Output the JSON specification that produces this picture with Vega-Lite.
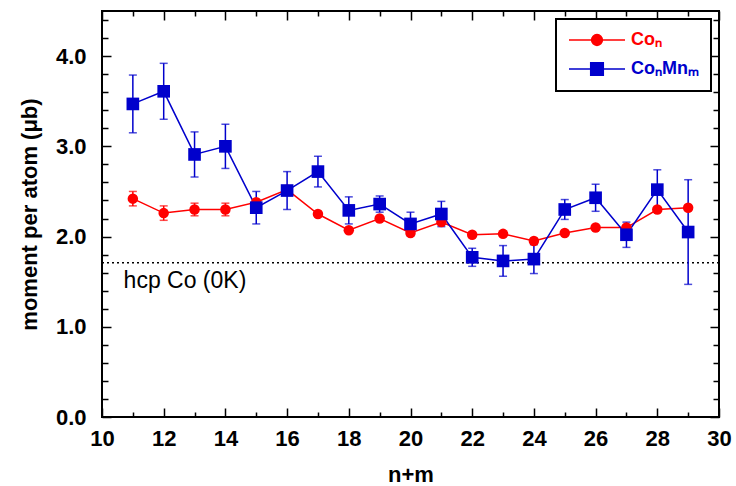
{
  "$schema": "https://vega.github.io/schema/vega-lite/v6.json",
  "width": 617,
  "height": 406,
  "autosize": "none",
  "padding": {"left": 102, "top": 11, "right": 17, "bottom": 69},
  "background": "white",
  "config": {
    "view": {"stroke": "black", "strokeWidth": 2},
    "font": "Liberation Sans",
    "legend": {"symbolOpacity": 1},
    "axis": {
      "domain": false,
      "grid": false,
      "tickColor": "black",
      "tickWidth": 1.5,
      "labelFont": "Liberation Sans",
      "labelFontWeight": "bold",
      "labelFontSize": 22,
      "labelColor": "black",
      "titleFont": "Liberation Sans",
      "titleFontWeight": "bold",
      "titleFontSize": 22,
      "titleColor": "black",
      "labelFlush": false,
      "labelOverlap": false
    }
  },
  "data": {
    "values": [
      {"x": 11, "s": "Co\u2099", "y": 2.42, "err": 0.08},
      {"x": 12, "s": "Co\u2099", "y": 2.26, "err": 0.08},
      {"x": 13, "s": "Co\u2099", "y": 2.30, "err": 0.07},
      {"x": 14, "s": "Co\u2099", "y": 2.30, "err": 0.07},
      {"x": 15, "s": "Co\u2099", "y": 2.38, "err": 0},
      {"x": 16, "s": "Co\u2099", "y": 2.52, "err": 0},
      {"x": 17, "s": "Co\u2099", "y": 2.25, "err": 0},
      {"x": 18, "s": "Co\u2099", "y": 2.07, "err": 0},
      {"x": 19, "s": "Co\u2099", "y": 2.20, "err": 0},
      {"x": 20, "s": "Co\u2099", "y": 2.04, "err": 0},
      {"x": 21, "s": "Co\u2099", "y": 2.16, "err": 0},
      {"x": 22, "s": "Co\u2099", "y": 2.02, "err": 0},
      {"x": 23, "s": "Co\u2099", "y": 2.03, "err": 0},
      {"x": 24, "s": "Co\u2099", "y": 1.95, "err": 0},
      {"x": 25, "s": "Co\u2099", "y": 2.04, "err": 0},
      {"x": 26, "s": "Co\u2099", "y": 2.10, "err": 0},
      {"x": 27, "s": "Co\u2099", "y": 2.10, "err": 0},
      {"x": 28, "s": "Co\u2099", "y": 2.30, "err": 0},
      {"x": 29, "s": "Co\u2099", "y": 2.32, "err": 0},
      {"x": 11, "s": "Co\u2099Mn\u2098", "y": 3.47, "err": 0.32},
      {"x": 12, "s": "Co\u2099Mn\u2098", "y": 3.61, "err": 0.31},
      {"x": 13, "s": "Co\u2099Mn\u2098", "y": 2.91, "err": 0.25},
      {"x": 14, "s": "Co\u2099Mn\u2098", "y": 3.00, "err": 0.245},
      {"x": 15, "s": "Co\u2099Mn\u2098", "y": 2.32, "err": 0.18},
      {"x": 16, "s": "Co\u2099Mn\u2098", "y": 2.51, "err": 0.21},
      {"x": 17, "s": "Co\u2099Mn\u2098", "y": 2.72, "err": 0.17},
      {"x": 18, "s": "Co\u2099Mn\u2098", "y": 2.29, "err": 0.15},
      {"x": 19, "s": "Co\u2099Mn\u2098", "y": 2.36, "err": 0.09},
      {"x": 20, "s": "Co\u2099Mn\u2098", "y": 2.14, "err": 0.13},
      {"x": 21, "s": "Co\u2099Mn\u2098", "y": 2.25, "err": 0.14},
      {"x": 22, "s": "Co\u2099Mn\u2098", "y": 1.77, "err": 0.10},
      {"x": 23, "s": "Co\u2099Mn\u2098", "y": 1.73, "err": 0.17},
      {"x": 24, "s": "Co\u2099Mn\u2098", "y": 1.75, "err": 0.16},
      {"x": 25, "s": "Co\u2099Mn\u2098", "y": 2.30, "err": 0.11},
      {"x": 26, "s": "Co\u2099Mn\u2098", "y": 2.43, "err": 0.15},
      {"x": 27, "s": "Co\u2099Mn\u2098", "y": 2.02, "err": 0.14},
      {"x": 28, "s": "Co\u2099Mn\u2098", "y": 2.52, "err": 0.22},
      {"x": 29, "s": "Co\u2099Mn\u2098", "y": 2.05, "err": 0.58}
    ]
  },
  "resolve": {"axis": {"x": "independent", "y": "independent"}},
  "layer": [
    {
      "data": {"values": [{"h": 1.71}]},
      "mark": {"type": "rule", "color": "black", "strokeWidth": 1.5, "strokeDash": [2, 3]},
      "encoding": {
        "y": {"field": "h", "type": "quantitative", "axis": null, "scale": {"domain": [0, 4.5], "nice": false}}
      }
    },
    {
      "data": {"values": [{"x": 10.7, "y": 1.43, "label": "hcp Co (0K)"}]},
      "mark": {"type": "text", "align": "left", "baseline": "alphabetic", "font": "Liberation Sans", "fontSize": 23, "color": "black"},
      "encoding": {
        "x": {"field": "x", "type": "quantitative", "scale": {"domain": [10, 30], "nice": false},
          "axis": {"orient": "top", "labels": false, "title": null, "values": [10,11,12,13,14,15,16,17,18,19,20,21,22,23,24,25,26,27,28,29,30],
            "tickSize": {"condition": {"test": "datum.value % 2 === 0", "value": -9}, "value": -5}}},
        "y": {"field": "y", "type": "quantitative", "scale": {"domain": [0, 4.5], "nice": false},
          "axis": {"orient": "right", "labels": false, "title": null, "values": [0,0.2,0.4,0.6,0.8,1,1.2,1.4,1.6,1.8,2,2.2,2.4,2.6,2.8,3,3.2,3.4,3.6,3.8,4,4.2,4.4],
            "tickSize": {"condition": {"test": "datum.value % 1 === 0", "value": -9}, "value": -6}}},
        "text": {"field": "label"}
      }
    },
    {
      "transform": [{"filter": "datum.err > 0"}],
      "mark": {"type": "errorbar", "ticks": {"size": 8}, "thickness": 1.5},
      "encoding": {
        "x": {"field": "x", "type": "quantitative", "axis": null},
        "y": {"field": "y", "type": "quantitative", "axis": null},
        "yError": {"field": "err"},
        "color": {"field": "s", "type": "nominal"}
      }
    },
    {
      "mark": {"type": "line", "strokeWidth": 1.5},
      "encoding": {
        "x": {"field": "x", "type": "quantitative", "axis": null},
        "y": {"field": "y", "type": "quantitative", "axis": null},
        "color": {"field": "s", "type": "nominal"}
      }
    },
    {
      "transform": [{"filter": "datum.s === 'Co\u2099'"}],
      "mark": {"type": "point", "filled": true, "opacity": 1, "shape": "circle", "size": 110},
      "encoding": {
        "x": {"field": "x", "type": "quantitative", "title": "n+m",
          "axis": {"orient": "bottom", "values": [10,11,12,13,14,15,16,17,18,19,20,21,22,23,24,25,26,27,28,29,30],
            "labelExpr": "datum.value % 2 === 0 ? datum.label : ''",
            "tickSize": {"condition": {"test": "datum.value % 2 === 0", "value": -9}, "value": -5},
            "labelPadding": 20, "titlePadding": 11}},
        "y": {"field": "y", "type": "quantitative", "title": "moment per atom (\u03bcb)",
          "axis": {"orient": "left", "values": [0,0.2,0.4,0.6,0.8,1,1.2,1.4,1.6,1.8,2,2.2,2.4,2.6,2.8,3,3.2,3.4,3.6,3.8,4,4.2,4.4],
            "labelExpr": "datum.value % 1 === 0 ? format(datum.value, '.1f') : ''",
            "tickSize": {"condition": {"test": "datum.value % 1 === 0", "value": -9}, "value": -6},
            "labelPadding": 25, "titlePadding": 14}},
        "color": {"field": "s", "type": "nominal",
          "scale": {"domain": ["Co\u2099", "Co\u2099Mn\u2098"], "range": ["#ff0000", "#0000cc"]},
          "legend": {
            "title": null,
            "orient": "top-right",
            "offset": 8,
            "fillColor": "white",
            "strokeColor": "black",
            "padding": 12,
            "symbolSize": 144,
            "symbolOffset": 20,
            "labelOffset": 25,
            "rowPadding": 10,
            "labelFont": "Liberation Sans",
            "labelFontWeight": "bold",
            "labelFontSize": 18,
            "symbolStrokeWidth": 1.5,
            "encoding": {
              "legend": {"strokeWidth": {"value": 2}},
              "symbols": {
                "shape": {"condition": {"test": "datum.value === 'Co\u2099'", "value": "M-4.67,0H4.67M0.9,0A0.9,0.9,0,1,1,-0.9,0A0.9,0.9,0,1,1,0.9,0Z"}, "value": "M-4.67,0H4.67M-1.05,-1.05H1.05V1.05H-1.05Z"},
                "size": {"value": 144},
                "stroke": {"condition": {"test": "datum.value === 'Co\u2099'", "value": "#ff0000"}, "value": "#0000cc"},
                "strokeWidth": {"value": 1.5},
                "opacity": {"value": 1}
              },
              "labels": {
                "fill": {"condition": {"test": "datum.value === 'Co\u2099'", "value": "#ff0000"}, "value": "#0000cc"}
              }
            }
          }}
      }
    },
    {
      "transform": [{"filter": "datum.s !== 'Co\u2099'"}],
      "mark": {"type": "point", "filled": true, "opacity": 1, "shape": "square", "size": 160},
      "encoding": {
        "x": {"field": "x", "type": "quantitative", "axis": null},
        "y": {"field": "y", "type": "quantitative", "axis": null},
        "color": {"field": "s", "type": "nominal"}
      }
    }
  ]
}
